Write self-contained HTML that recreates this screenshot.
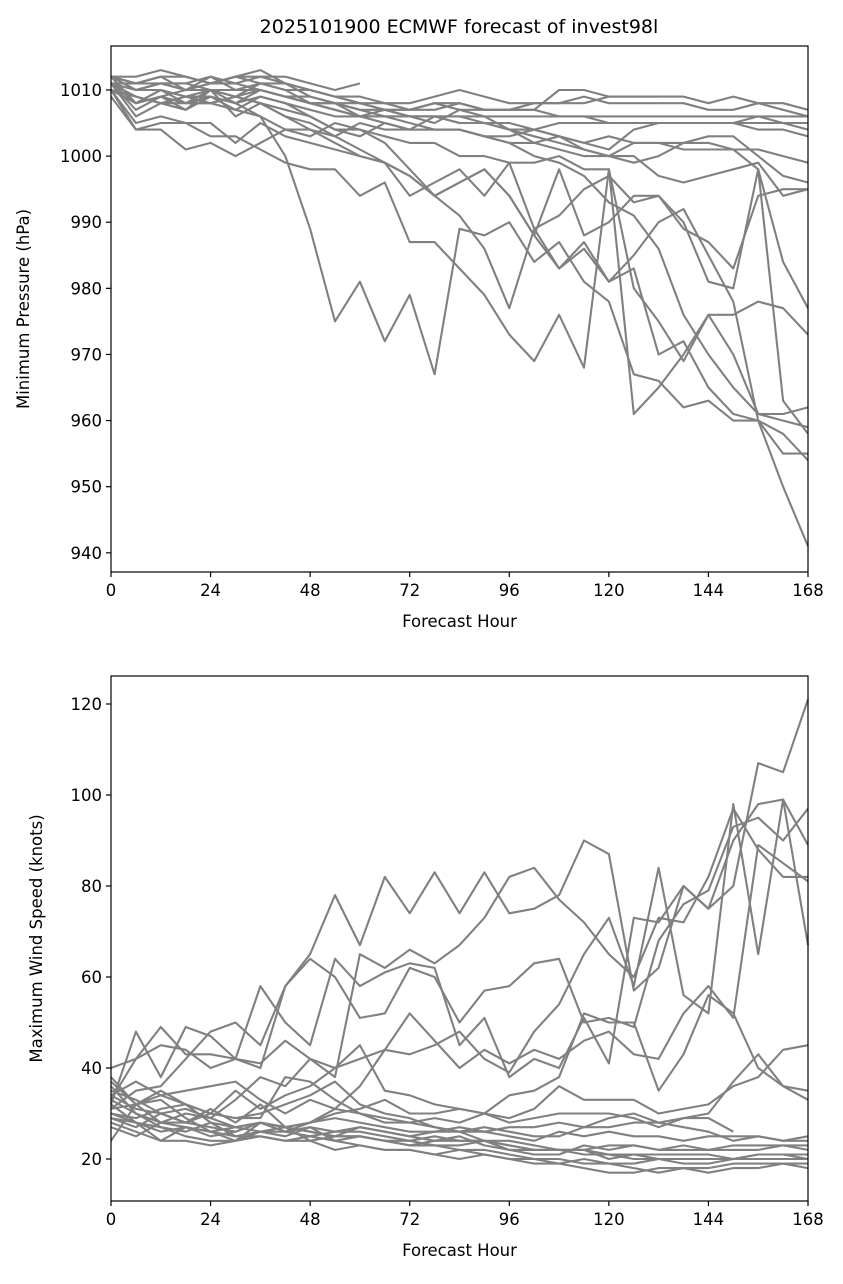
<!DOCTYPE html>
<html><head><meta charset="utf-8">
<style>
html,body{margin:0;padding:0;background:#fff;}
svg text{font-family:"DejaVu Sans","Liberation Sans",sans-serif;fill:#000;}
</style></head>
<body>
<svg id="fig" width="843" height="1279" xmlns="http://www.w3.org/2000/svg">
<rect width="843" height="1279" fill="#fff"/>
<text x="459" y="33" font-size="19" text-anchor="middle">2025101900 ECMWF forecast of invest98l</text>
<g id="p1"></g>
<g id="p2"></g>
</svg>
<script>
const hours = [0,6,12,18,24,30,36,42,48,54,60,66,72,78,84,90,96,102,108,114,120,126,132,138,144,150,156,162,168];
const xTicks = [0,24,48,72,96,120,144,168];
const pTicks = [940,950,960,970,980,990,1000,1010];
const wTicks = [20,40,60,80,100,120];
const pressureSeries = [
[1011,1008,1009,1008,1010,1009,1008,1006,1004,1003,1001,999,997,994,996,998,994,988,983,987,981,985,990,992,985,978,960,950,941],
[1010,1004,1004,1001,1002,1000,1002,1004,1003,1005,1004,1002,998,994,991,986,977,989,983,986,981,983,970,972,965,961,960,958,954],
[1009,1004,1005,1005,1003,1003,1001,999,998,998,994,996,987,987,983,979,973,969,976,968,998,980,975,969,976,970,961,960,959],
[1012,1008,1009,1010,1010,1008,1006,1000,989,975,981,972,979,967,989,988,990,984,987,981,978,967,966,962,963,960,960,955,955],
[1011,1009,1008,1008,1008,1007,1006,1004,1004,1002,1000,999,997,994,996,998,994,988,998,988,990,994,994,990,981,980,998,963,958],
[1010,1008,1010,1009,1008,1009,1008,1007,1006,1004,1004,1003,1002,1002,1000,1000,999,999,1000,998,998,961,965,970,976,976,978,977,973],
[1011,1010,1011,1010,1011,1011,1010,1009,1008,1007,1006,1006,1005,1004,1004,1003,1002,1000,999,997,993,991,986,976,970,965,961,961,962],
[1012,1011,1012,1012,1011,1012,1011,1010,1010,1009,1008,1007,1006,1006,1005,1005,1004,1004,1003,1001,1000,1000,997,996,997,998,999,994,995],
[1010,1009,1008,1009,1010,1009,1010,1009,1008,1008,1007,1006,1006,1006,1006,1005,1004,1003,1002,1001,1000,999,1000,1002,1002,1001,998,984,977],
[1012,1010,1011,1010,1011,1012,1012,1011,1010,1009,1008,1008,1007,1008,1008,1007,1007,1007,1006,1006,1005,1005,1005,1005,1005,1005,1006,1005,1004],
[1011,1007,1009,1007,1009,1007,1009,1008,1006,1004,1003,1005,1004,1004,1004,1003,1002,1002,1001,1000,1000,1002,1002,1002,1003,1003,1000,997,996],
[1010,1005,1006,1005,1005,1002,1005,1003,1002,1001,1000,999,994,996,998,994,999,989,991,995,997,993,994,989,987,983,994,995,995],
[1012,1011,1011,1011,1010,1010,1010,1009,1009,1008,1007,1007,1007,1007,1008,1007,1007,1007,1010,1010,1009,1009,1009,1009,1008,1009,1008,1008,1007],
[1011,1010,1010,1008,1009,1008,1010,1009,1008,1007,1006,1006,1006,1006,1006,1006,1006,1006,1006,1006,1006,1006,1006,1006,1006,1006,1006,1006,1006],
[1012,1012,1013,1012,1011,1012,1013,1011,1010,1009,1009,1008,1008,1009,1010,1009,1008,1008,1008,1009,1008,1008,1008,1008,1007,1007,1008,1007,1006],
[1011,1006,1008,1007,1010,1006,1008,1006,1005,1003,1005,1004,1004,1006,1005,1005,1005,1004,1005,1005,1005,1005,1005,1005,1005,1005,1005,1005,1005],
[1010,1008,1010,1009,1009,1008,1009,1008,1007,1006,1006,1007,1006,1005,1007,1006,1004,1002,1003,1002,1003,1002,1002,1001,1001,1001,1001,1000,999],
[1011,1011,1012,1010,1012,1011,1012,1012,1011,1010,1011],
[1012,1010,1011,1011,1012,1010,1011,1011,1009,1008,1008,1007,1007,1008,1007,1007,1007,1008,1008,1008,1009,1009,1009],
[1011,1008,1009,1008,1008,1009,1011,1010,1008,1008,1006,1005,1004,1004,1004,1003,1003,1004,1003,1002,1001,1004,1005,1005,1005,1005,1004,1004,1003]
];
const windSeries = [
[33,42,49,43,43,42,58,50,45,64,58,61,63,62,45,51,38,42,40,51,41,73,72,80,75,90,98,99,89],
[31,35,36,42,48,50,45,58,65,78,67,82,74,83,74,83,74,75,78,90,87,57,62,80,75,80,107,105,121],
[37,32,35,32,30,35,31,34,36,40,42,44,43,45,48,42,39,48,54,65,73,58,84,56,52,98,65,99,67],
[40,42,45,44,40,42,40,58,64,60,51,52,62,60,50,57,58,63,64,50,51,49,68,76,79,93,95,90,97],
[32,48,38,49,47,42,41,46,42,38,65,62,66,63,67,73,82,84,77,72,65,60,73,72,82,97,88,82,82],
[30,28,24,27,25,26,28,27,28,31,36,44,52,46,40,44,41,44,42,46,48,43,42,52,58,51,89,85,81],
[29,27,30,28,31,28,32,27,28,30,31,33,30,30,31,30,34,35,38,52,50,50,35,43,56,52,40,36,33],
[33,30,28,30,29,33,38,36,42,40,45,35,34,32,31,30,29,31,36,33,33,33,30,31,32,36,38,44,45],
[28,26,24,24,23,24,25,24,25,24,23,22,22,21,22,21,20,20,20,19,19,19,20,20,20,20,20,20,20],
[36,30,27,26,28,27,28,26,27,26,26,25,24,25,24,24,23,22,22,22,21,21,21,21,21,20,21,21,21],
[34,31,30,28,27,26,28,27,26,25,25,24,23,23,22,22,21,20,19,18,17,17,18,18,18,19,19,19,19],
[30,29,31,32,28,25,26,27,24,22,23,22,22,21,20,21,20,19,19,20,19,18,17,18,17,18,18,19,18],
[31,32,34,35,36,37,33,30,33,31,30,28,28,27,26,27,26,25,25,27,27,28,28,27,26,24,25,24,25],
[27,25,28,27,26,27,26,26,25,26,27,26,25,26,26,26,25,24,26,25,26,25,25,24,25,25,25,24,24],
[34,37,34,32,30,29,30,32,34,37,32,30,29,27,26,24,23,22,22,22,23,23,22,23,22,23,23,23,23],
[38,32,28,28,30,29,29,38,37,33,30,29,28,29,28,30,28,29,30,30,30,29,27,29,29,26],
[29,28,26,27,26,24,28,26,28,29,28,27,26,26,27,26,27,27,28,27,29,30,28,29,30,37,43,36,35],
[35,33,30,31,29,27,28,27,26,25,25,24,24,23,23,24,22,22,22,21,21,20,20,20,20,20,20,20,20],
[24,32,33,29,26,25,25,24,24,25,27,26,25,24,25,23,22,21,21,23,22,23,22,22,22,22,22,23,22],
[32,28,27,25,24,24,26,25,27,24,25,24,23,24,24,24,24,23,22,22,20,21,20,19,19,20,21,21,20]
];
const NS='http://www.w3.org/2000/svg';
function mk(tag,attrs,parent){const e=document.createElementNS(NS,tag);for(const k in attrs)e.setAttribute(k,attrs[k]);parent.appendChild(e);return e;}
function panel(g,top,bottom,ymin,ymax,yticks,series,ylabel,prefix,ylabX){
  const L=111,R=808;
  const xs=h=>L+(h/168)*(R-L);
  const ys=v=>bottom-(v-ymin)/(ymax-ymin)*(bottom-top);
  const lines=mk('g',{},g);
  
  
  series.forEach((s,i)=>{
    const pts=s.map((v,j)=>xs(hours[j]).toFixed(1)+','+ys(v).toFixed(1)).join(' ');
    const pl=mk('polyline',{points:pts,fill:'none',stroke:'#808080','stroke-width':2.1,'stroke-linejoin':'round'},lines);
    
    
  });
  const frame=mk('rect',{x:L,y:top,width:R-L,height:bottom-top,fill:'none',stroke:'#000','stroke-width':1.2},g);
  
  
  xTicks.forEach(t=>{
    const x=xs(t);
    mk('line',{x1:x,x2:x,y1:bottom,y2:bottom+5,stroke:'#000','stroke-width':1.2},g);
    const tx=mk('text',{x:x,y:bottom+24,'font-size':16.5,'text-anchor':'middle'},g);
    tx.textContent=t;
    
    
  });
  yticks.forEach(t=>{
    const y=ys(t);
    mk('line',{x1:L-5,x2:L,y1:y,y2:y,stroke:'#000','stroke-width':1.2},g);
    const tx=mk('text',{x:L-9,y:y+6,'font-size':16.5,'text-anchor':'end'},g);
    tx.textContent=t;
    
    
  });
  const xl=mk('text',{x:(L+R)/2,y:bottom+55,'font-size':16.5,'text-anchor':'middle'},g);
  xl.textContent='Forecast Hour';
  
  
  const cy=(top+bottom)/2;
  const yl=mk('text',{x:0,y:0,'font-size':16.5,'text-anchor':'middle',transform:'translate('+ylabX+','+cy+') rotate(-90)'},g);
  yl.textContent=ylabel;
  
  
}
panel(document.getElementById('p1'),46,572,937.1,1016.65,pTicks,pressureSeries,'Minimum Pressure (hPa)','pressure',29);
panel(document.getElementById('p2'),676,1201,10.77,126.15,wTicks,windSeries,'Maximum Wind Speed (knots)','wind',42);
</script>
</body></html>
